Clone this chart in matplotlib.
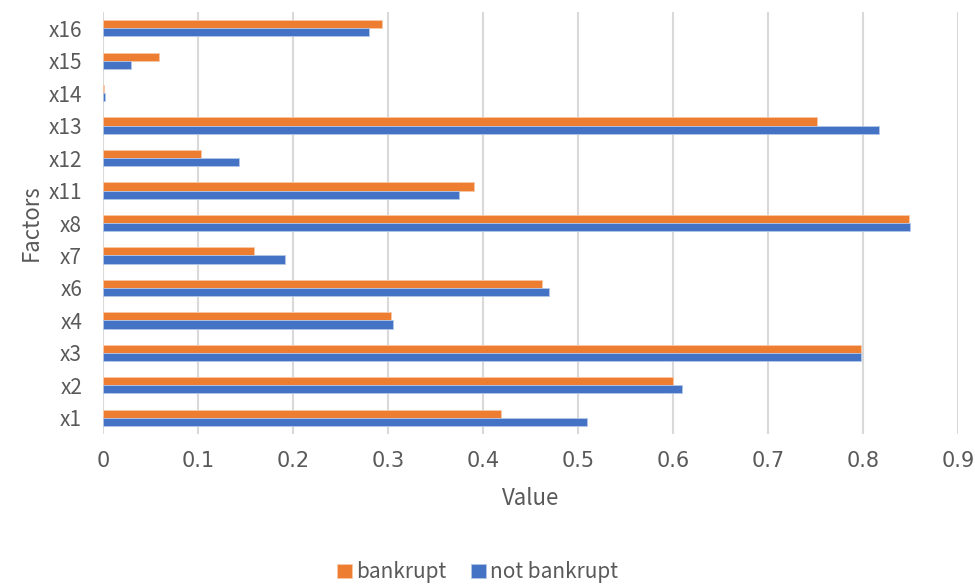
import matplotlib.pyplot as plt
import numpy as np

plt.rcParams['font.family'] = ['Noto Sans CJK SC', 'DejaVu Sans']

factors = ['x1', 'x2', 'x3', 'x4', 'x6', 'x7', 'x8', 'x11', 'x12', 'x13', 'x14', 'x15', 'x16']
bankrupt = [0.419, 0.600, 0.798, 0.303, 0.462, 0.159, 0.848, 0.391, 0.103, 0.752, 0.001, 0.059, 0.294]
not_bankrupt = [0.509, 0.609, 0.798, 0.305, 0.469, 0.192, 0.849, 0.375, 0.143, 0.817, 0.002, 0.030, 0.280]
xticks = [0, 0.1, 0.2, 0.3, 0.4, 0.5, 0.6, 0.7, 0.8, 0.9]

orange = '#ed7d31'
blue = '#4472c4'
grey = '#595959'

fig = plt.figure(figsize=(9.75, 5.87), dpi=100)
ax = fig.add_axes([0.1056, 0.2606, 0.877, 0.719])

y = np.arange(len(factors))
h = 0.25
ax.barh(y + h / 2, bankrupt, height=h, color=orange, edgecolor='#f8c8a8', linewidth=0.6,
        label='bankrupt', zorder=3)
ax.barh(y - h / 2, not_bankrupt, height=h, color=blue, edgecolor='#b4c7e7', linewidth=0.6,
        label='not bankrupt', zorder=3)

ax.set_xlim(0, 0.9)
ax.set_ylim(-0.5, len(factors) - 0.5)
ax.set_xticks(xticks)
ax.set_xticklabels(['0' if v == 0 else f'{v:g}' for v in xticks],
                   family=['Liberation Sans Narrow', 'DejaVu Sans'])
ax.set_yticks(y)
ax.set_yticklabels(factors)
ax.tick_params(axis='x', length=0, pad=12, labelsize=15, labelcolor=grey)
ax.tick_params(axis='y', length=0, pad=15, labelsize=15, labelcolor=grey)

ax.grid(axis='x', color='#d9d9d9', linewidth=1.5, zorder=0)
for s in ax.spines.values():
    s.set_visible(False)

ax.set_xlabel('Value', fontsize=16, color=grey, labelpad=12)
ax.set_ylabel('Factors', fontsize=16, color=grey, labelpad=4)

leg = fig.legend(loc='center', bbox_to_anchor=(0.49, 0.025), ncol=2, frameon=False,
                 fontsize=15, handlelength=0.7, handleheight=0.7, handletextpad=0.2,
                 columnspacing=1.2)
for t in leg.get_texts():
    t.set_color(grey)

fig.savefig('out.png', dpi=100)
